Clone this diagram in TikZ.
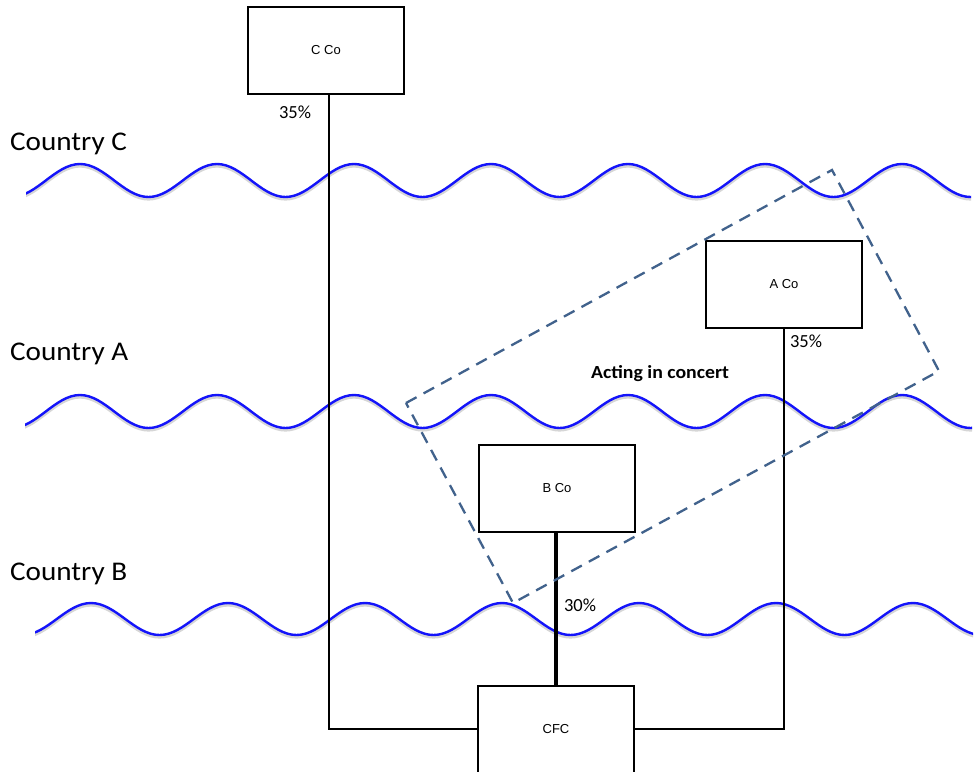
\documentclass[tikz,border=0pt]{standalone}
\usepackage{fontspec}
\setmainfont{Carlito}
\newfontfamily\arialf{Liberation Sans}
\definecolor{wave}{RGB}{20,20,250}
\definecolor{concert}{RGB}{65,98,140}
\begin{document}
\begin{tikzpicture}[x=1pt,y=-1pt,
  box/.style={draw=black,line width=2pt,fill=white,minimum width=156pt,minimum height=87pt,inner sep=0pt,font=\arialf\fontsize{13}{15}\selectfont},
  link/.style={draw=black,line width=2pt},
  thicklink/.style={draw=black,line width=4pt},
  wavy/.style={draw=wave,line width=2.4pt},
  waveshadow/.style={draw=black!16,line width=3.2pt},
  country/.style={anchor=base west,inner sep=0pt,font=\fontsize{27}{30}\selectfont},
  pct/.style={inner sep=0pt,font=\fontsize{18.5}{20}\selectfont},
  concertbox/.style={draw=concert,line width=2.3pt,dash pattern=on 12pt off 8pt}]
\useasboundingbox (0,0) rectangle (974,771);
\fill[white] (0,0) rectangle (974,771);
% country labels
\node[country] (lc) at (10,150) {\scalebox{1.08}[1]{Country C}};
\node[country] (la) at (10,360) {\scalebox{1.08}[1]{Country A}};
\node[country] (lb) at (10,580) {\scalebox{1.08}[1]{Country B}};
% waves: half periods of 68.5, Bezier half-cosines
\begin{scope}
\clip (26,0) rectangle (971,300);
\draw[waveshadow,yshift=-2pt] (11.5,197) \foreach \k in {0,...,7}{
 .. controls ({11.5+137*\k+24.9},197) and ({11.5+137*\k+43.6},164) .. ({11.5+137*\k+68.5},164)
 .. controls ({11.5+137*\k+93.4},164) and ({11.5+137*\k+112.1},197) .. ({11.5+137*\k+137},197)};
\draw[wavy] (11.5,197) \foreach \k in {0,...,7}{
 .. controls ({11.5+137*\k+24.9},197) and ({11.5+137*\k+43.6},164) .. ({11.5+137*\k+68.5},164)
 .. controls ({11.5+137*\k+93.4},164) and ({11.5+137*\k+112.1},197) .. ({11.5+137*\k+137},197)};
\end{scope}
\begin{scope}
\clip (25,300) rectangle (972,500);
\draw[waveshadow,yshift=-2pt] (11.5,428) \foreach \k in {0,...,7}{
 .. controls ({11.5+137*\k+24.9},428) and ({11.5+137*\k+43.6},395) .. ({11.5+137*\k+68.5},395)
 .. controls ({11.5+137*\k+93.4},395) and ({11.5+137*\k+112.1},428) .. ({11.5+137*\k+137},428)};
\draw[wavy] (11.5,428) \foreach \k in {0,...,7}{
 .. controls ({11.5+137*\k+24.9},428) and ({11.5+137*\k+43.6},395) .. ({11.5+137*\k+68.5},395)
 .. controls ({11.5+137*\k+93.4},395) and ({11.5+137*\k+112.1},428) .. ({11.5+137*\k+137},428)};
\end{scope}
\begin{scope}
\clip (35,560) rectangle (973,680);
\draw[waveshadow,yshift=-2pt] (22.5,635) \foreach \k in {0,...,7}{
 .. controls ({22.5+137*\k+24.9},635) and ({22.5+137*\k+43.6},603) .. ({22.5+137*\k+68.5},603)
 .. controls ({22.5+137*\k+93.4},603) and ({22.5+137*\k+112.1},635) .. ({22.5+137*\k+137},635)};
\draw[wavy] (22.5,635) \foreach \k in {0,...,7}{
 .. controls ({22.5+137*\k+24.9},635) and ({22.5+137*\k+43.6},603) .. ({22.5+137*\k+68.5},603)
 .. controls ({22.5+137*\k+93.4},603) and ({22.5+137*\k+112.1},635) .. ({22.5+137*\k+137},635)};
\end{scope}
% boxes
\node[box] (cco) at (326,50) {C Co};
\node[box] (aco) at (784,284.5) {A Co};
\node[box] (bco) at (557,488.5) {B Co};
\node[box] (cfc) at (556,729) {CFC};
% connectors
\coordinate (cx) at (329,0);
\draw[link] (cco.south -| cx) |- (cfc.west);
\draw[link] (aco.south) |- (cfc.east);
\draw[thicklink] (cfc.north) -- (cfc.north |- bco.south);
% percentages
\node[pct] (p1) at (295,112) {35\%};
\node[pct] (p2) at (806,341) {35\%};
\node[pct] (p3) at (580,605) {30\%};
% acting in concert
\draw[concertbox] (406,403) -- (832,170) -- (939,371) -- (513,603) -- cycle;
\node[inner sep=0pt,font=\bfseries\fontsize{18.5}{20}\selectfont] (aic) at (660,374) {\scalebox{1.07}[1]{Acting in concert}};
\end{tikzpicture}
\end{document}
